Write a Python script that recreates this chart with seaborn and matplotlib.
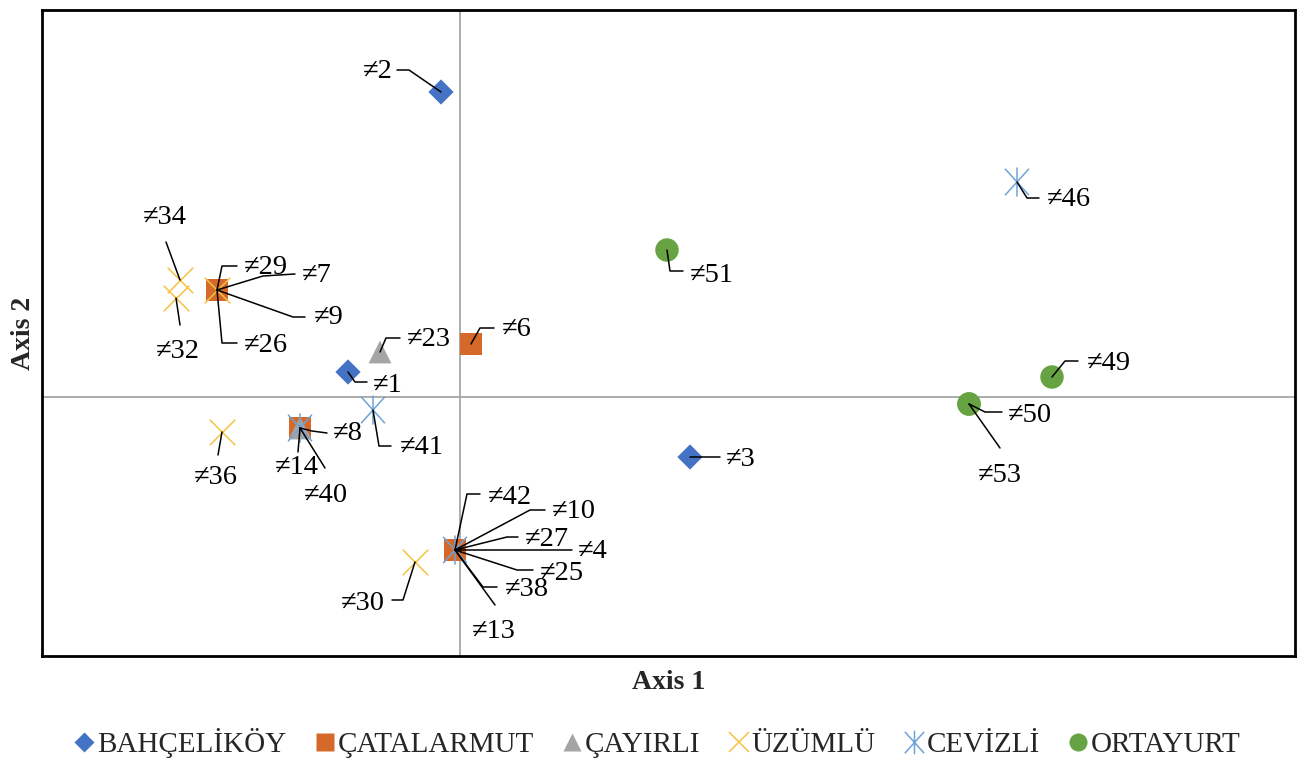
import matplotlib
matplotlib.use("Agg")
import matplotlib.pyplot as plt
from matplotlib.path import Path
from matplotlib.lines import Line2D
import seaborn as sns
import pandas as pd

# ---------------- data ----------------
groups = ["BAHÇELİKÖY", "ÇATALARMUT", "ÇAYIRLI", "ÜZÜMLÜ", "CEVİZLİ", "ORTAYURT"]

bah_ids = ["≠1", "≠2", "≠3"]
bah_x = [-1.12, -0.19, 2.30]
bah_y = [0.25, 3.05, -0.60]

cat_ids = ["≠6", "≠29", "≠9", "≠26", "≠8", "≠42", "≠10", "≠27", "≠4", "≠25", "≠13"]
cat_x = [0.11, -2.43, -2.43, -2.43, -1.60, -0.05, -0.05, -0.05, -0.05, -0.05, -0.05]
cat_y = [0.53, 1.07, 1.07, 1.07, -0.31, -1.53, -1.53, -1.53, -1.53, -1.53, -1.53]

cay_ids = ["≠23", "≠14"]
cay_x = [-0.80, -1.60]
cay_y = [0.45, -0.31]

uzu_ids = ["≠34", "≠32", "≠7", "≠36", "≠30"]
uzu_x = [-2.80, -2.84, -2.43, -2.38, -0.45]
uzu_y = [1.17, 0.99, 1.07, -0.35, -1.65]

cev_ids = ["≠46", "≠41", "≠40", "≠38"]
cev_x = [5.57, -0.87, -1.60, -0.05]
cev_y = [2.15, -0.13, -0.31, -1.53]

ort_ids = ["≠51", "≠49", "≠50", "≠53"]
ort_x = [2.07, 5.92, 5.09, 5.09]
ort_y = [1.47, 0.20, -0.07, -0.07]

frames = []
for g, ids, xs, ys in zip(groups,
                          [bah_ids, cat_ids, cay_ids, uzu_ids, cev_ids, ort_ids],
                          [bah_x, cat_x, cay_x, uzu_x, cev_x, ort_x],
                          [bah_y, cat_y, cay_y, uzu_y, cev_y, ort_y]):
    frames.append(pd.DataFrame({"id": ids, "group": g, "x": xs, "y": ys}))
df = pd.concat(frames, ignore_index=True)

# ---------------- layout / style ----------------
colors = {"BAHÇELİKÖY": "#4472C4", "ÇATALARMUT": "#D4692A", "ÇAYIRLI": "#A5A5A5",
          "ÜZÜMLÜ": "#F5C242", "CEVİZLİ": "#6FA3D8", "ORTAYURT": "#67A343"}

asterisk = Path([(-0.45, -0.5), (0.45, 0.5), (-0.45, 0.5), (0.45, -0.5), (0, -0.55), (0, 0.55)],
                [Path.MOVETO, Path.LINETO, Path.MOVETO, Path.LINETO, Path.MOVETO, Path.LINETO])

marker_kw = {
    "BAHÇELİKÖY": dict(marker="D", s=165, edgecolor="none"),
    "ÇATALARMUT": dict(marker="s", s=255, edgecolor="none"),
    "ÇAYIRLI": dict(marker="^", s=270, edgecolor="none"),
    "ÜZÜMLÜ": dict(marker="x", s=340, linewidth=1.1),
    "CEVİZLİ": dict(marker=asterisk, s=440, facecolor="none", linewidth=1.1),
    "ORTAYURT": dict(marker="o", s=285, edgecolor="none"),
}

# callouts: pixel offsets from the point (x right, y down): elbow, end, text anchor, ha
callouts = {
    "≠2": ((-32, -22), (-44, -22), (-48, -20), "right"),
    "≠1": ((7, 10), (19, 10), (25, 13), "left"),
    "≠3": ((10, 0), (30, 0), (36, 3), "left"),
    "≠6": ((9, -16), (23, -16), (31, -14), "left"),
    "≠29": ((5, -24), (20, -24), (27, -22), "left"),
    "≠7": ((46, -14), (78, -16), (85, -14), "left"),
    "≠9": ((76, 27), (88, 27), (97, 28), "left"),
    "≠26": ((5, 53), (20, 53), (27, 55), "left"),
    "≠34": ((-14, -38), (-14, -38), (-15, -62), "center"),
    "≠32": ((4, 27), (4, 27), (2, 54), "center"),
    "≠8": ((12, 3), (27, 5), (33, 6), "left"),
    "≠14": ((-2, 24), (-2, 24), (-3, 40), "center"),
    "≠40": ((25, 40), (25, 40), (26, 67), "center"),
    "≠36": ((-4, 23), (-4, 23), (-6, 46), "center"),
    "≠41": ((6, 36), (18, 36), (27, 37), "left"),
    "≠23": ((6, -14), (20, -14), (27, -12), "left"),
    "≠46": ((10, 16), (22, 16), (30, 18), "left"),
    "≠51": ((3, 21), (16, 21), (23, 25), "left"),
    "≠49": ((13, -16), (26, -16), (35, -14), "left"),
    "≠50": ((16, 8), (33, 8), (39, 12), "left"),
    "≠53": ((31, 44), (31, 44), (31, 71), "center"),
    "≠42": ((12, -56), (25, -56), (33, -53), "left"),
    "≠10": ((75, -40), (90, -40), (97, -38), "left"),
    "≠27": ((52, -13), (63, -13), (70, -11), "left"),
    "≠4": ((117, 0), (117, 0), (123, 2), "left"),
    "≠25": ((62, 20), (78, 20), (85, 23), "left"),
    "≠38": ((28, 37), (42, 37), (50, 39), "left"),
    "≠13": ((40, 55), (40, 55), (39, 82), "center"),
    "≠30": ((-12, 38), (-23, 38), (-30, 41), "right"),
}

sns.set_theme(style="white")
plt.rcParams["font.family"] = ["Liberation Serif", "DejaVu Serif"]

W, H = 1306, 760
fig = plt.figure(figsize=(W / 100, H / 100), dpi=100)
L, R, T, B = 42, 1295, 10, 656
ax = fig.add_axes([L / W, 1 - B / H, (R - L) / W, (B - T) / H])
X0, Y0, PX = 460, 397, 100.0
ax.set_xlim((L - X0) / PX, (R - X0) / PX)
ax.set_ylim((Y0 - B) / PX, (Y0 - T) / PX)

ax.axhline(0, color="#A6A6A6", lw=1.3, zorder=0)
ax.axvline(0, color="#A6A6A6", lw=1.3, zorder=0)

for g in groups:
    sub = df[df.group == g]
    kw = dict(marker_kw[g])
    if g == "CEVİZLİ":
        kw["edgecolor"] = colors[g]
    sns.scatterplot(data=sub, x="x", y="y", color=colors[g], ax=ax, label=g,
                    legend=False, zorder=3, **kw)

for _, r in df.iterrows():
    (ex, ey), (nx, ny), (tx, ty), ha = callouts[r["id"]]
    xs = [r.x, r.x + ex / PX, r.x + nx / PX]
    ys = [r.y, r.y - ey / PX, r.y - ny / PX]
    ax.add_line(Line2D(xs, ys, color="black", lw=1.1, zorder=4))
    ax.text(r.x + tx / PX, r.y - ty / PX, r["id"], ha=ha, va="center",
            fontsize=20.5, color="black", zorder=5)

ax.set_xticks([])
ax.set_yticks([])
for sp in ax.spines.values():
    sp.set_color("black")
    sp.set_linewidth(2)
ax.set_xlabel("Axis 1", fontsize=20, fontweight="bold", labelpad=10)
ax.set_ylabel("Axis 2", fontsize=20, fontweight="bold", labelpad=4)

# legend
handles = []
for g in groups:
    kw = marker_kw[g]
    m = kw["marker"]
    ms = {"D": 10, "s": 13, "^": 13, "x": 15, "o": 13}.get(m if isinstance(m, str) else "*", 17)
    if g in ("ÜZÜMLÜ", "CEVİZLİ"):
        h = Line2D([], [], ls="none", marker=m, markersize=ms, color=colors[g],
                   markerfacecolor="none", markeredgewidth=1.1)
    else:
        h = Line2D([], [], ls="none", marker=m, markersize=ms, color=colors[g],
                   markeredgecolor="none")
    handles.append(h)
fig.legend(handles, groups, loc="center", bbox_to_anchor=(0.504, 1 - 743 / H), ncol=6,
           frameon=False, fontsize=21, handletextpad=0.15, columnspacing=1.0,
           handlelength=0.6)

fig.savefig("out.png", dpi=100)
